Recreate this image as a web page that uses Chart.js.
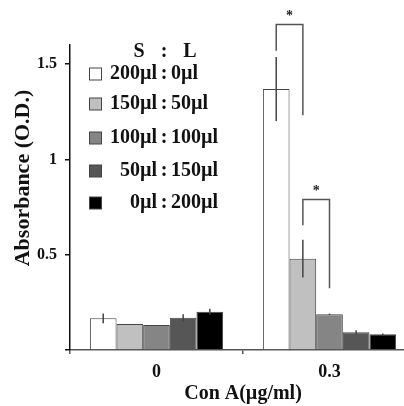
<!DOCTYPE html>
<html><head><meta charset="utf-8">
<script src="https://cdn.jsdelivr.net/npm/chart.js@4"></script>
<style>html,body{margin:0;padding:0;overflow:hidden;background:#fff}#wrap{width:420px;height:406px}</style>
</head><body><div id="wrap"><canvas id="c" width="420" height="406"></canvas></div>
<script>
const categories = ['0', '0.3'];
const sVolumes = ['200µl', '150µl', '100µl', '50µl', '0µl'];
const lVolumes = ['0µl', '50µl', '100µl', '150µl', '200µl'];
const series200_0 = [0.166, 1.369];
const series150_50 = [0.136, 0.479];
const series100_100 = [0.131, 0.187];
const series50_150 = [0.169, 0.093];
const series0_200 = [0.201, 0.082];
const err200_0 = [0.026, 0.168];
const err150_50 = [0, 0.099];
const err100_100 = [0, 0.004];
const err50_150 = [0.019, 0.01];
const err0_200 = [0.015, 0.004];
const yTicks = [0, 0.5, 1, 1.5];
const sigBrackets = [
  { group: 1, from: 0, to: 1, top: 1.708, leftEnd: 1.57, rightEnd: 1.232, mark: '*' },
  { group: 1, from: 1, to: 2, top: 0.79, leftEnd: 0.655, rightEnd: 0.324, mark: '*' }
];

const fillColors = ['#ffffff', '#c0c0c0', '#858585', '#565656', '#000000'];
const seriesValues = [series200_0, series150_50, series100_100, series50_150, series0_200];
const seriesErrors = [err200_0, err150_50, err100_100, err50_150, err0_200];
const FONT = '"Liberation Serif", "Times New Roman", serif';

const datasets = seriesValues.map((vals, i) => ({
  label: sVolumes[i] + ' : ' + lVolumes[i],
  data: vals,
  errors: seriesErrors[i],
  backgroundColor: fillColors[i],
  borderColor: '#444',
  borderWidth: 1,
  categoryPercentage: 0.77,
  barPercentage: 1.0
}));

const extras = {
  id: 'extras',
  afterDatasetsDraw(chart) {
    const ctx = chart.ctx;
    const y = chart.scales.y;
    ctx.save();
    ctx.strokeStyle = '#444';
    ctx.lineWidth = 1.5;
    chart.data.datasets.forEach((ds, di) => {
      chart.getDatasetMeta(di).data.forEach((el, j) => {
        const e = ds.errors[j];
        if (!e) return;
        const v = ds.data[j];
        ctx.beginPath();
        ctx.moveTo(el.x, y.getPixelForValue(v + e));
        ctx.lineTo(el.x, y.getPixelForValue(v - e));
        ctx.stroke();
      });
    });
    ctx.strokeStyle = '#555';
    ctx.lineWidth = 1.5;
    ctx.fillStyle = '#222';
    ctx.font = 'bold 14px ' + FONT;
    ctx.textAlign = 'center';
    ctx.textBaseline = 'middle';
    sigBrackets.forEach(b => {
      const x1 = chart.getDatasetMeta(b.from).data[b.group].x;
      const x2 = chart.getDatasetMeta(b.to).data[b.group].x;
      const yt = y.getPixelForValue(b.top);
      ctx.beginPath();
      ctx.moveTo(x1, y.getPixelForValue(b.leftEnd));
      ctx.lineTo(x1, yt);
      ctx.lineTo(x2, yt);
      ctx.lineTo(x2, y.getPixelForValue(b.rightEnd));
      ctx.stroke();
      ctx.fillText(b.mark, (x1 + x2) / 2, yt - 8);
    });
    ctx.restore();
  },
  afterDraw(chart) {
    const ctx = chart.ctx;
    ctx.save();
    ctx.fillStyle = '#111';
    ctx.font = 'bold 20px ' + FONT;
    ctx.textBaseline = 'middle';
    ctx.textAlign = 'center';
    ctx.fillText('S', 139, 52);
    ctx.fillText(':', 164, 52);
    ctx.fillText('L', 190, 52);
    const rows = [74, 104, 138, 171, 203];
    chart.data.datasets.forEach((ds, i) => {
      const cy = rows[i];
      ctx.fillStyle = ds.backgroundColor;
      ctx.fillRect(89.5, cy - 6, 12, 12);
      ctx.strokeStyle = '#444';
      ctx.lineWidth = 1;
      ctx.strokeRect(89.5, cy - 6, 12, 12);
      ctx.fillStyle = '#111';
      ctx.textAlign = 'right';
      ctx.fillText(sVolumes[i], 157, cy);
      ctx.textAlign = 'center';
      ctx.fillText(':', 164, cy);
      ctx.textAlign = 'left';
      ctx.fillText(lVolumes[i], 171, cy);
    });
    ctx.translate(24, 178);
    ctx.rotate(-Math.PI / 2);
    ctx.scale(1.1, 1);
    ctx.textAlign = 'center';
    ctx.font = 'bold 20px ' + FONT;
    ctx.fillText('Absorbance (O.D.)', 0, 0);
    ctx.restore();
  }
};

new Chart(document.getElementById('c'), {
  type: 'bar',
  data: { labels: categories, datasets },
  options: {
    responsive: false,
    animation: false,
    layout: { padding: { top: 45, right: 4, left: 0, bottom: 0 } },
    plugins: { legend: { display: false }, tooltip: { enabled: false } },
    scales: {
      x: {
        offset: true,
        grid: { offset: true, drawOnChartArea: false, tickLength: 4, color: '#555', lineWidth: 1.5 },
        border: { color: '#555', width: 1.5 },
        ticks: { padding: 8, color: '#111', font: { family: FONT, size: 18, weight: 'bold' } },
        title: { display: true, text: 'Con A(µg/ml)', color: '#111', padding: { top: 0, bottom: 0 },
                 font: { family: FONT, size: 20, weight: 'bold', lineHeight: 1.2 } },
        afterFit(s) { s.height = 56; }
      },
      y: {
        min: 0, max: 1.6,
        afterBuildTicks(s) { s.ticks = yTicks.map(v => ({ value: v })); },
        grid: { drawOnChartArea: false, tickLength: 5, color: '#111', lineWidth: 1.5 },
        border: { color: '#111', width: 1.5 },
        ticks: { padding: 8, color: '#111', font: { family: FONT, size: 16, weight: 'bold' },
                 callback: v => v === 0 ? '' : String(v) },
        afterFit(s) { s.width = 70; }
      }
    }
  },
  plugins: [extras]
});
</script></body></html>
